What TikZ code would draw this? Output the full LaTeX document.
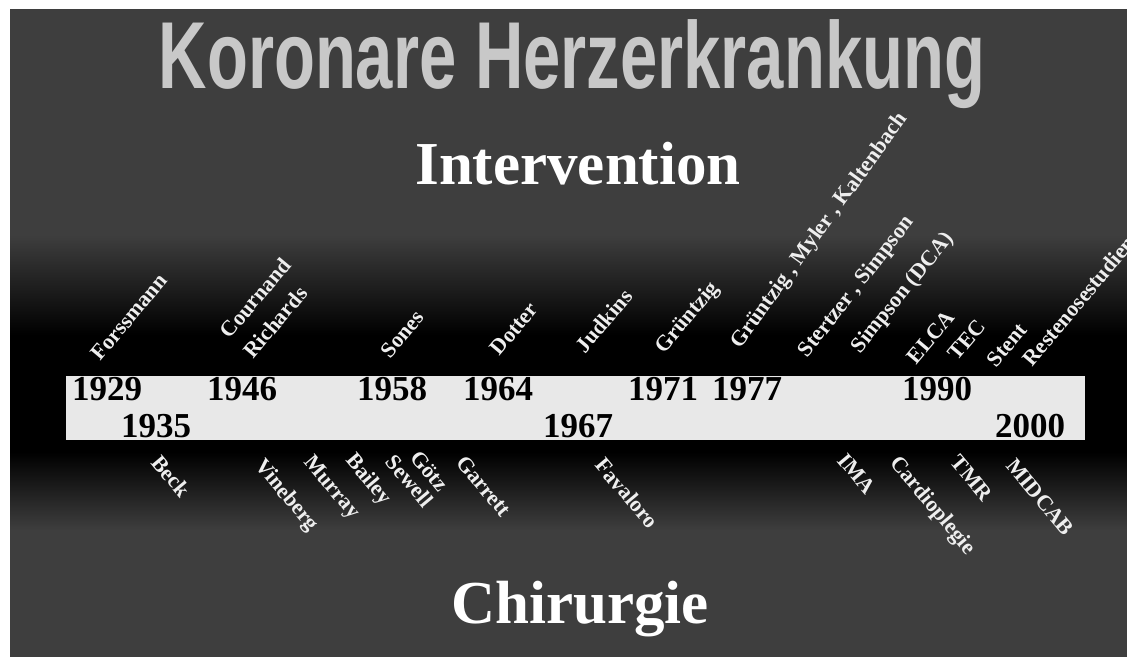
\documentclass[tikz,border=0pt]{standalone}
\usepackage{fontspec}
\usepackage{graphicx}
\setmainfont{Liberation Serif}
\newfontfamily\titlefont{Liberation Sans}
\definecolor{bggray}{RGB}{62,62,62}
\definecolor{barfill}{RGB}{232,232,232}
\definecolor{labelwhite}{RGB}{238,238,238}
\definecolor{titlefront}{RGB}{200,200,200}
\begin{document}
\begin{tikzpicture}[x=1pt,y=-1pt,
  toplabel/.style={text=labelwhite, font=\bfseries\fontsize{22}{31}\selectfont, rotate=50, inner sep=0pt, align=left},
  botlabel/.style={text=labelwhite, font=\bfseries\fontsize{22}{31}\selectfont, rotate=-50, inner sep=0pt},
  year/.style={text=black, font=\bfseries\fontsize{35}{35}\selectfont, anchor=base, inner sep=0pt},
  headline/.style={text=white, font=\bfseries\fontsize{61}{61}\selectfont, anchor=base, inner sep=0pt},
  titletext/.style={font=\titlefont\bfseries\fontsize{67}{67}\selectfont, inner sep=0pt}]
\useasboundingbox (0,0) rectangle (1127,657);
% background
\fill[white] (0,0) rectangle (1127,657);
\fill[bggray] (10,9) rectangle (1127,657);
\shade[top color=bggray, bottom color=black] (10,235) rectangle (1127,335);
\fill[black] (10,335) rectangle (1127,452);
\shade[top color=black, bottom color=bggray] (10,452) rectangle (1127,530);
% title
\node[titletext, text=titlefront] (title) at (572,64) {\scalebox{1}[1.42]{Koronare Herzerkrankung}};
% headings
\node[headline] (interv) at (578,184) {Intervention};
\node[headline] (chir) at (580,623) {Chirurgie};
% timeline bar
\node[fill=barfill, minimum width=1019pt, minimum height=64pt, inner sep=0pt, anchor=north west] (bar) at (66,376) {};
% years
\node[year] (y1929) at (107,400) {1929};
\node[year] (y1946) at (242,400) {1946};
\node[year] (y1958) at (392,400) {1958};
\node[year] (y1964) at (498,400) {1964};
\node[year] (y1971) at (663,400) {1971};
\node[year] (y1977) at (747,400) {1977};
\node[year] (y1990) at (937,400) {1990};
\node[year] (y1935) at (156,437) {1935};
\node[year] (y1967) at (578,437) {1967};
\node[year] (y2000) at (1030,437) {2000};
% intervention labels
\node[toplabel] (forss) at (129,317) {Forssmann};
\node[toplabel] (courn) at (267,308) {Cournand\\Richards};
\node[toplabel] (sones) at (402,334) {Sones};
\node[toplabel] (dotter) at (514,329) {Dotter};
\node[toplabel] (judk) at (604,321) {Judkins};
\node[toplabel] (gruen) at (688,318) {Grüntzig};
\node[toplabel, rotate=4] (gmk) at (820,231) {Grüntzig , Myler , Kaltenbach};
\node[toplabel, rotate=2] (stsi) at (857,287) {Stertzer , Simpson};
\node[toplabel, rotate=1] (dca) at (903,293) {Simpson (DCA)};
\node[toplabel] (elca) at (931,337) {ELCA};
\node[toplabel] (tec) at (967,340) {TEC};
\node[toplabel] (stent) at (1007,345) {Stent};
\node[toplabel, anchor=south west] (resten) at (1033,368) {Restenosestudien};
% surgery labels
\node[botlabel] (beck) at (171,476) {Beck};
\node[botlabel] (vine) at (286,496) {Vineberg};
\node[botlabel] (murr) at (331,488) {Murray};
\node[botlabel] (bail) at (368,480) {Bailey};
\node[botlabel] (sew) at (410,481) {Sewell};
\node[botlabel] (goetz) at (430,471) {Götz};
\node[botlabel] (garr) at (484,486) {Garrett};
\node[botlabel] (fava) at (627,493) {Favaloro};
\node[botlabel] (ima) at (857,474) {IMA};
\node[botlabel] (cardio) at (932,506) {Cardioplegie};
\node[botlabel] (tmr) at (972,478) {TMR};
\node[botlabel] (midcab) at (1040,497) {MIDCAB};
\end{tikzpicture}
\end{document}
